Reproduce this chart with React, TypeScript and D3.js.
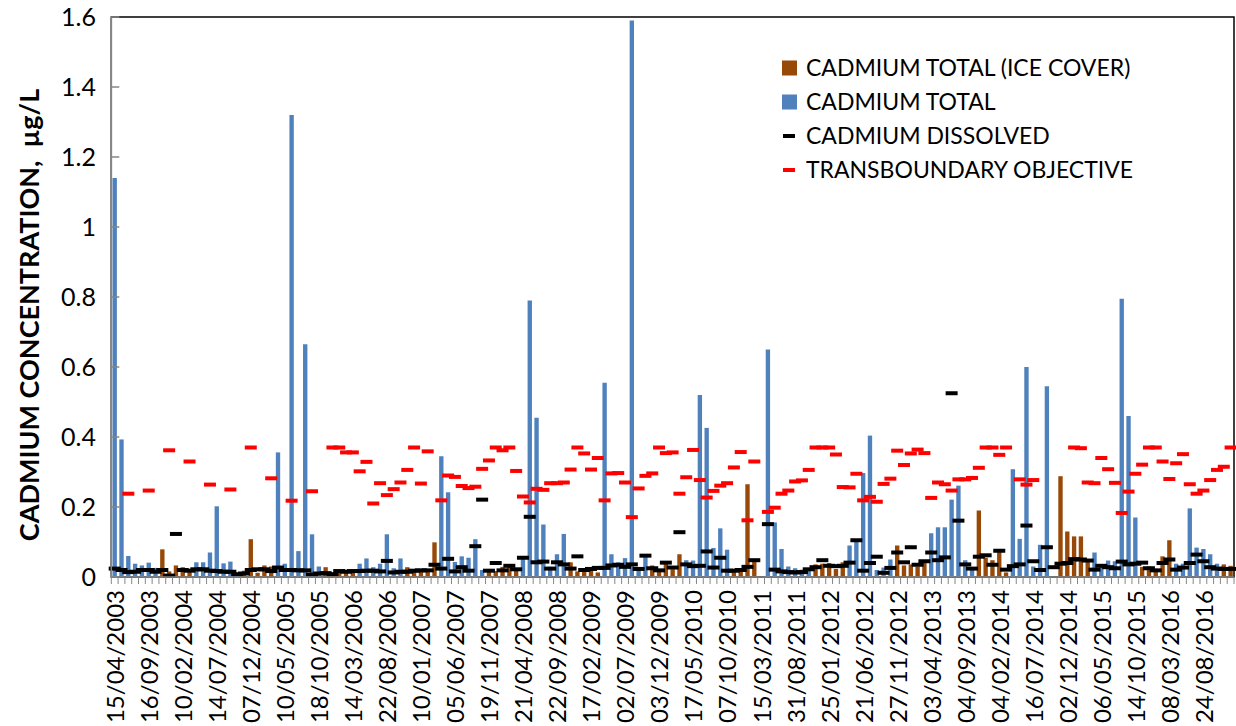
import React from 'react';
import * as d3 from 'd3';

// Sample dates shown on the axis (every fifth monthly sample)
const dateLabels = [
  '15/04/2003', '16/09/2003', '10/02/2004', '14/07/2004', '07/12/2004', '10/05/2005',
  '18/10/2005', '14/03/2006', '22/08/2006', '10/01/2007', '05/06/2007', '19/11/2007',
  '21/04/2008', '22/09/2008', '17/02/2009', '02/07/2009', '03/12/2009', '17/05/2010',
  '07/10/2010', '15/03/2011', '31/08/2011', '25/01/2012', '21/06/2012', '27/11/2012',
  '03/04/2013', '04/09/2013', '04/02/2014', '16/07/2014', '02/12/2014', '06/05/2015',
  '14/10/2015', '08/03/2016', '24/08/2016',
];
const labelEvery = 5;
const sampleCount = 165;

type V = number | null;
const _ = null;

// Total cadmium, open-water samples (µg/L)
const cadmiumTotal: V[] = [
  1.14, 0.393, 0.06, 0.038, 0.033, 0.041, 0.026, _, _, _,
  _, _, 0.042, 0.042, 0.07, 0.202, 0.039, 0.044, 0.012, _,
  _, _, _, _, 0.356, 0.038, 1.32, 0.074, 0.665, 0.122,
  0.03, _, _, _, _, _, 0.038, 0.053, 0.028, 0.038,
  0.122, 0.025, 0.053, _, _, _, _, _, 0.345, 0.242,
  0.043, 0.059, 0.055, 0.108, 0.02, _, _, _, _, _,
  0.057, 0.79, 0.455, 0.15, 0.029, 0.065, 0.123, _, _, _,
  _, _, 0.555, 0.065, 0.042, 0.054, 1.59, 0.028, 0.057, _,
  _, _, _, _, 0.048, 0.047, 0.52, 0.426, 0.083, 0.139,
  0.078, _, _, _, _, _, 0.65, 0.156, 0.08, 0.03,
  0.025, 0.021, 0.024, _, _, _, _, _, 0.09, 0.103,
  0.297, 0.404, 0.02, 0.027, 0.05, _, _, _, _, _,
  0.125, 0.142, 0.142, 0.221, 0.261, 0.048, 0.025, _, _, _,
  _, _, 0.308, 0.109, 0.6, 0.03, 0.092, 0.545, _, _,
  _, _, _, _, 0.07, 0.029, 0.047, 0.045, 0.795, 0.46,
  0.17, _, _, _, _, _, 0.038, 0.038, 0.196, 0.084,
  0.08, 0.065, 0.038, _, _,
];

// Total cadmium, ice-cover samples (µg/L)
const cadmiumTotalIce: V[] = [
  _, _, _, _, _, _, _, 0.079, 0.016, 0.033,
  0.028, 0.022, _, _, _, _, _, _, _, 0.018,
  0.108, 0.012, 0.033, 0.03, _, _, _, _, _, _,
  _, 0.028, 0.012, 0.018, 0.015, 0.022, _, _, _, _,
  _, _, _, 0.028, 0.019, 0.021, 0.021, 0.099, _, _,
  _, _, _, _, _, 0.023, 0.017, 0.029, 0.032, 0.019,
  _, _, _, _, _, _, _, 0.042, 0.016, 0.019,
  0.021, 0.013, _, _, _, _, _, _, _, 0.033,
  0.022, 0.038, 0.022, 0.065, _, _, _, _, _, _,
  _, 0.023, 0.025, 0.265, 0.051, _, _, _, _, _,
  _, _, _, 0.036, 0.038, 0.04, 0.023, 0.042, _, _,
  _, _, _, _, _, 0.09, 0.033, 0.036, 0.03, 0.042,
  _, _, _, _, _, _, _, 0.19, 0.055, 0.048,
  0.072, 0.013, _, _, _, _, _, _, _, 0.288,
  0.13, 0.116, 0.116, 0.045, _, _, _, _, _, _,
  _, 0.029, 0.03, 0.023, 0.059, 0.105, _, _, _, _,
  _, _, _, 0.036, 0.032,
];

// Dissolved cadmium (µg/L)
const cadmiumDissolved: V[] = [
  0.024, 0.02, 0.014, 0.015, 0.02, 0.02, 0.015, 0.02, 0.004, 0.123,
  0.02, 0.018, 0.022, 0.022, 0.018, 0.017, 0.015, 0.015, 0.008, 0.01,
  0.02, 0.022, 0.022, 0.017, 0.027, 0.02, 0.02, 0.019, 0.019, 0.007,
  0.01, 0.011, 0.008, 0.017, 0.015, 0.017, 0.017, 0.018, 0.018, 0.016,
  0.046, 0.013, 0.015, 0.015, 0.018, 0.019, 0.019, 0.035, 0.024, 0.052,
  0.016, 0.028, 0.018, 0.088, 0.221, 0.018, 0.04, 0.019, 0.032, 0.022,
  0.055, 0.172, 0.042, 0.044, 0.024, 0.042, 0.036, 0.024, 0.059, 0.02,
  0.023, 0.026, 0.026, 0.033, 0.035, 0.029, 0.036, 0.023, 0.061, 0.025,
  0.019, 0.041, 0.027, 0.128, 0.036, 0.031, 0.032, 0.073, 0.027, 0.055,
  0.018, 0.018, 0.02, 0.029, 0.048, _, 0.151, 0.021, 0.016, 0.014,
  0.013, 0.014, 0.022, 0.028, 0.048, 0.032, 0.031, 0.032, 0.041, 0.105,
  0.018, 0.04, 0.058, 0.012, 0.026, 0.07, 0.042, 0.085, 0.035, 0.045,
  0.07, 0.048, 0.056, 0.525, 0.161, 0.036, 0.024, 0.058, 0.062, 0.035,
  0.075, 0.021, 0.031, 0.036, 0.147, 0.045, 0.02, 0.085, 0.028, 0.038,
  0.04, 0.051, 0.05, 0.047, 0.021, 0.032, 0.028, 0.025, 0.044, 0.036,
  0.038, 0.041, 0.025, 0.019, 0.04, 0.05, 0.021, 0.027, 0.04, 0.064,
  0.045, 0.028, 0.024, 0.023, 0.023,
];

// Transboundary objective (µg/L)
const transboundaryObjective: V[] = [
  _, _, 0.238, _, _, 0.247, _, _, 0.362, _,
  _, 0.33, _, _, 0.264, _, _, 0.25, _, _,
  0.37, _, _, 0.282, _, _, 0.218, _, _, 0.245,
  _, _, 0.37, 0.37, 0.356, 0.356, 0.302, 0.329, 0.21, 0.268,
  0.234, 0.251, 0.27, 0.306, 0.37, 0.267, 0.359, _, 0.219, 0.29,
  0.286, 0.26, 0.254, 0.258, 0.309, 0.333, 0.37, 0.362, 0.37, 0.303,
  0.23, 0.213, 0.252, 0.249, 0.268, 0.268, 0.27, 0.307, 0.37, 0.353,
  0.307, 0.34, 0.219, 0.296, 0.297, 0.27, 0.171, 0.253, 0.289, 0.296,
  0.37, 0.354, 0.356, 0.238, 0.285, 0.363, 0.277, 0.227, 0.246, 0.261,
  0.268, 0.313, 0.357, 0.162, 0.33, _, 0.186, 0.198, 0.238, 0.247,
  0.273, 0.276, 0.306, 0.37, 0.37, 0.37, 0.35, 0.257, 0.256, 0.295,
  0.219, 0.229, 0.215, 0.266, 0.281, 0.361, 0.32, 0.353, 0.364, 0.354,
  0.226, 0.27, 0.265, 0.247, 0.279, 0.279, 0.283, 0.312, 0.37, 0.37,
  0.349, 0.37, _, 0.279, 0.264, 0.277, _, _, _, _,
  _, 0.37, 0.368, 0.27, 0.268, 0.34, 0.308, 0.269, 0.183, 0.244,
  0.295, 0.321, 0.37, 0.37, 0.33, 0.28, 0.325, 0.351, 0.265, 0.238,
  0.247, 0.277, 0.306, 0.315, 0.37,
];

const yTicks = [0, 0.2, 0.4, 0.6, 0.8, 1, 1.2, 1.4, 1.6];

const legendItems = [
  { label: 'CADMIUM TOTAL (ICE COVER)', kind: 'box', color: '#984807' },
  { label: 'CADMIUM TOTAL', kind: 'box', color: '#4F81BD' },
  { label: 'CADMIUM DISSOLVED', kind: 'dash', color: '#000000' },
  { label: 'TRANSBOUNDARY OBJECTIVE', kind: 'dash', color: '#FF0000' },
];

const W = 1236;
const H = 726;
const plot = { left: 111.3, right: 1234, top: 17, bottom: 577 };
const FONT = 'Lato, "Open Sans", sans-serif';

export default function App() {
  const idx = d3.range(sampleCount);
  const x = d3
    .scaleBand<number>()
    .domain(idx)
    .range([plot.left, plot.right])
    .paddingInner(0.36)
    .paddingOuter(0.18);
  const step = x.step();
  const bw = x.bandwidth();
  const cx = (i: number) => (x(i) as number) + bw / 2;
  const y = d3.scaleLinear().domain([0, 1.6]).range([plot.bottom, plot.top]);

  const bars = (vals: V[], color: string, key: string) =>
    vals.map((v, i) =>
      v == null ? null : (
        <rect key={key + i} x={x(i)} y={y(v)} width={bw} height={y(0) - y(v)} fill={color} />
      )
    );

  const dashW = 12;
  const dashH = 4;
  const dashes = (vals: V[], color: string, key: string) =>
    vals.map((v, i) =>
      v == null ? null : (
        <rect key={key + i} x={cx(i) - dashW / 2} y={y(v) - dashH / 2} width={dashW} height={dashH} fill={color} />
      )
    );

  const boundaries = d3.range(sampleCount + 1).map((i) => plot.left + i * step);

  return (
    <svg
      width={W}
      height={H}
      style={{ position: 'absolute', left: 0, top: 0, background: '#fff' }}
      fontFamily={FONT}
    >
      <rect x={0} y={0} width={W} height={H} fill="#fff" />

      {/* plot frame */}
      <rect
        x={plot.left}
        y={plot.top}
        width={plot.right - plot.left}
        height={plot.bottom - plot.top}
        fill="none"
        stroke="#000"
        strokeWidth={1.5}
      />

      {bars(cadmiumTotal, '#4F81BD', 't')}
      {bars(cadmiumTotalIce, '#984807', 'i')}
      {dashes(transboundaryObjective, '#FF0000', 'o')}
      {dashes(cadmiumDissolved, '#000000', 'd')}

      {/* y axis */}
      <line x1={plot.left} x2={plot.left} y1={plot.top} y2={plot.bottom} stroke="#868686" strokeWidth={1.5} />
      {yTicks.map((t) => (
        <g key={'yt' + t}>
          <line x1={plot.left} x2={plot.left + 8} y1={y(t)} y2={y(t)} stroke="#868686" strokeWidth={1.5} />
          <text x={96} y={y(t)} dy="0.35em" textAnchor="end" fontSize={25} fill="#000">
            {String(+t.toFixed(1))}
          </text>
        </g>
      ))}

      {/* x axis */}
      <line x1={plot.left} x2={plot.right} y1={plot.bottom} y2={plot.bottom} stroke="#868686" strokeWidth={1.5} />
      {boundaries.map((bx, i) => (
        <line key={'xt' + i} x1={bx} x2={bx} y1={plot.bottom} y2={plot.bottom + 7} stroke="#868686" strokeWidth={1} />
      ))}
      {dateLabels.map((lab, k) => {
        const px = cx(k * labelEvery) + 1;
        const py = 590;
        return (
          <text
            key={'xl' + k}
            transform={`translate(${px},${py}) rotate(-90)`}
            dy="0.35em"
            textAnchor="end"
            fontSize={24}
            fill="#000"
          >
            {lab}
          </text>
        );
      })}

      {/* y axis title */}
      <text
        transform={`translate(30,${315}) rotate(-90)`}
        textAnchor="middle"
        dy="0.35em"
        fontSize={27}
        fontWeight="bold"
        fill="#000"
      >
        {'CADMIUM CONCENTRATION, \u00a0µg/L'}
      </text>

      {/* legend */}
      {legendItems.map((it, k) => {
        const ly = 68 + k * 34;
        return (
          <g key={'lg' + k}>
            {it.kind === 'box' ? (
              <rect x={782} y={ly - 7.5} width={15} height={15} fill={it.color} />
            ) : (
              <rect x={783} y={ly - 2} width={12} height={4} fill={it.color} />
            )}
            <text x={806} y={ly} dy="0.35em" fontSize={23} fill="#000">
              {it.label}
            </text>
          </g>
        );
      })}
    </svg>
  );
}
